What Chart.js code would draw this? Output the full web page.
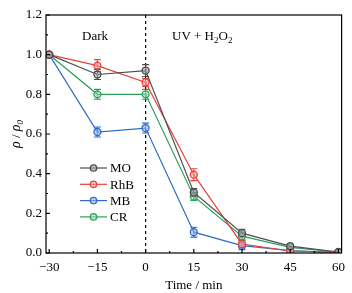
<!DOCTYPE html>
<html>
<head>
<meta charset="utf-8">
<script src="https://cdn.jsdelivr.net/npm/chart.js@4.4.1/dist/chart.umd.min.js"></script>
<style>
  html, body { margin: 0; padding: 0; background: #fff; }
  #wrap { width: 352px; height: 293px; }
</style>
</head>
<body>
<div id="wrap"><canvas id="chart" width="352" height="293"></canvas></div>
<script>
// Data
const times = [-30, -15, 0, 15, 30, 45, 60];
const moValues  = [1.0, 0.90, 0.92, 0.305, 0.10, 0.035, 0.005];
const rhbValues = [1.0, 0.945, 0.86, 0.395, 0.045, 0.01, 0.003];
const mbValues  = [1.0, 0.61, 0.63, 0.105, 0.037, 0.012, 0.002];
const crValues  = [1.0, 0.80, 0.80, 0.285, 0.085, 0.028, 0.004];
const moErr  = [0.005, 0.025, 0.03, 0.02, 0.02, 0.01, 0.005];
const rhbErr = [0.005, 0.03, 0.02, 0.03, 0.02, 0.008, 0.005];
const mbErr  = [0.005, 0.025, 0.025, 0.025, 0.02, 0.008, 0.005];
const crErr  = [0.005, 0.025, 0.025, 0.02, 0.02, 0.008, 0.005];
const xTicks = [-30, -15, 0, 15, 30, 45, 60];
const yTicks = [0.0, 0.2, 0.4, 0.6, 0.8, 1.0, 1.2];

const serif = '"Liberation Serif", "DejaVu Serif", serif';

function makeSet(label, values, errors, color, fill) {
    return {
        label: label,
        data: times.map((t, i) => ({ x: t, y: values[i] })),
        errors: errors,
        borderColor: color,
        backgroundColor: fill,
        pointBackgroundColor: fill,
        pointBorderColor: color,
        pointRadius: 3.5,
        pointBorderWidth: 1.3,
        borderWidth: 1.2,
        tension: 0
    };
}

// Draws error bars, ticks, box, divider, labels and the legend
const decorations = {
    id: 'decorations',
    beforeDatasetsDraw(chart) {
        const ctx = chart.ctx;
        const xs = chart.scales.x, ys = chart.scales.y;
        const area = chart.chartArea;
        ctx.save();
        // dashed divider at t = 0
        ctx.strokeStyle = '#000';
        ctx.lineWidth = 1.2;
        ctx.setLineDash([3, 3]);
        const x0 = xs.getPixelForValue(0);
        ctx.beginPath();
        ctx.moveTo(x0, area.top);
        ctx.lineTo(x0, area.bottom);
        ctx.stroke();
        ctx.setLineDash([]);
        // error bars
        chart.data.datasets.forEach(ds => {
            ctx.strokeStyle = ds.borderColor;
            ctx.lineWidth = 1.1;
            ds.data.forEach((p, i) => {
                const e = ds.errors[i];
                if (e < 0.012) return;
                const px = xs.getPixelForValue(p.x);
                const top = ys.getPixelForValue(p.y + e);
                const bot = ys.getPixelForValue(p.y - e);
                ctx.beginPath();
                ctx.moveTo(px, top); ctx.lineTo(px, bot);
                ctx.moveTo(px - 3.5, top); ctx.lineTo(px + 3.5, top);
                ctx.moveTo(px - 3.5, bot); ctx.lineTo(px + 3.5, bot);
                ctx.stroke();
            });
        });
        ctx.restore();
    },
    afterDraw(chart) {
        const ctx = chart.ctx;
        const xs = chart.scales.x, ys = chart.scales.y;
        const area = chart.chartArea;
        ctx.save();
        ctx.strokeStyle = '#000';
        ctx.lineWidth = 1.2;
        // box
        ctx.strokeRect(area.left, area.top, area.right - area.left, area.bottom - area.top);
        // inward ticks
        ctx.beginPath();
        for (let v = -30; v <= 60; v += 7.5) {
            const px = xs.getPixelForValue(v);
            const len = (v % 15 === 0) ? 4 : 2;
            ctx.moveTo(px, area.bottom); ctx.lineTo(px, area.bottom - len);
        }
        for (let k = 0; k <= 12; k++) {
            const py = ys.getPixelForValue(k / 10);
            const len = (k % 2 === 0) ? 4 : 2;
            ctx.moveTo(area.left, py); ctx.lineTo(area.left + len, py);
        }
        ctx.stroke();

        ctx.fillStyle = '#000';
        ctx.textBaseline = 'alphabetic';
        // region labels
        ctx.font = '13px ' + serif;
        ctx.textAlign = 'left';
        ctx.fillText('Dark', 82, 40);
        let tx = 172;
        const parts = [['UV + H', 0], ['2', 1], ['O', 0], ['2', 1]];
        parts.forEach(([s, sub]) => {
            ctx.font = (sub ? '9px ' : '13px ') + serif;
            ctx.fillText(s, tx, sub ? 43 : 40);
            tx += ctx.measureText(s).width;
        });

        // y-axis title: rho / rho0, rotated
        ctx.save();
        ctx.translate(16, 134);
        ctx.rotate(-Math.PI / 2);
        ctx.textAlign = 'left';
        const segs = [['\u03C1', 'italic 14px ', 0], [' / ', '13px ', 0], ['\u03C1', 'italic 14px ', 0], ['0', 'italic 9px ', 1]];
        let w = 0;
        segs.forEach(([s, f]) => { ctx.font = f + serif; w += ctx.measureText(s).width; });
        let sx = -w / 2;
        segs.forEach(([s, f, sub]) => {
            ctx.font = f + serif;
            ctx.fillText(s, sx, sub ? 7 : 4);
            sx += ctx.measureText(s).width;
        });
        ctx.restore();

        // legend inside plot
        ctx.font = '13px ' + serif;
        ctx.textBaseline = 'middle';
        chart.data.datasets.forEach((ds, i) => {
            const ly = 168 + i * 16.3;
            ctx.strokeStyle = ds.borderColor;
            ctx.lineWidth = 1.2;
            ctx.beginPath();
            ctx.moveTo(80, ly); ctx.lineTo(107, ly);
            ctx.stroke();
            ctx.beginPath();
            ctx.arc(93.5, ly, 3.2, 0, Math.PI * 2);
            ctx.fillStyle = ds.pointBackgroundColor;
            ctx.fill();
            ctx.lineWidth = 1.3;
            ctx.stroke();
            ctx.fillStyle = '#000';
            ctx.fillText(ds.label, 110, ly + 1);
        });
        ctx.restore();
    }
};

const ctx = document.getElementById('chart').getContext('2d');
const chart = new Chart(ctx, {
    type: 'line',
    data: {
        datasets: [
            makeSet('MO', moValues, moErr, '#4d4d4d', 'rgba(160,160,160,0.6)'),
            makeSet('RhB', rhbValues, rhbErr, '#e8403a', 'rgba(245,160,160,0.6)'),
            makeSet('MB', mbValues, mbErr, '#2f6cc9', 'rgba(150,180,235,0.6)'),
            makeSet('CR', crValues, crErr, '#2f9e5a', 'rgba(150,215,175,0.6)')
        ]
    },
    options: {
        responsive: false,
        animation: false,
        layout: { padding: { top: 15, right: 9, left: 0, bottom: 0 } },
        plugins: {
            legend: { display: false },
            tooltip: { enabled: false }
        },
        scales: {
            x: {
                type: 'linear',
                min: -31,
                max: 61,
                afterBuildTicks: s => { s.ticks = xTicks.map(v => ({ value: v })); },
                afterFit: s => { s.height = 40; },
                grid: { display: false, drawTicks: false },
                border: { display: false },
                ticks: {
                    color: '#000',
                    padding: 7,
                    font: { family: serif, size: 13 },
                    callback: v => String(v).replace('-', '\u2212')
                },
                title: {
                    display: true,
                    text: 'Time / min',
                    color: '#000',
                    font: { family: serif, size: 13 },
                    padding: { top: 0, bottom: 0 }
                }
            },
            y: {
                min: 0,
                max: 1.2,
                afterBuildTicks: s => { s.ticks = yTicks.map(v => ({ value: v })); },
                afterFit: s => { s.width = 46; },
                grid: { display: false, drawTicks: false },
                border: { display: false },
                ticks: {
                    color: '#000',
                    padding: 4,
                    font: { family: serif, size: 13 },
                    callback: v => v.toFixed(1)
                }
            }
        }
    },
    plugins: [decorations]
});
</script>
</body>
</html>
